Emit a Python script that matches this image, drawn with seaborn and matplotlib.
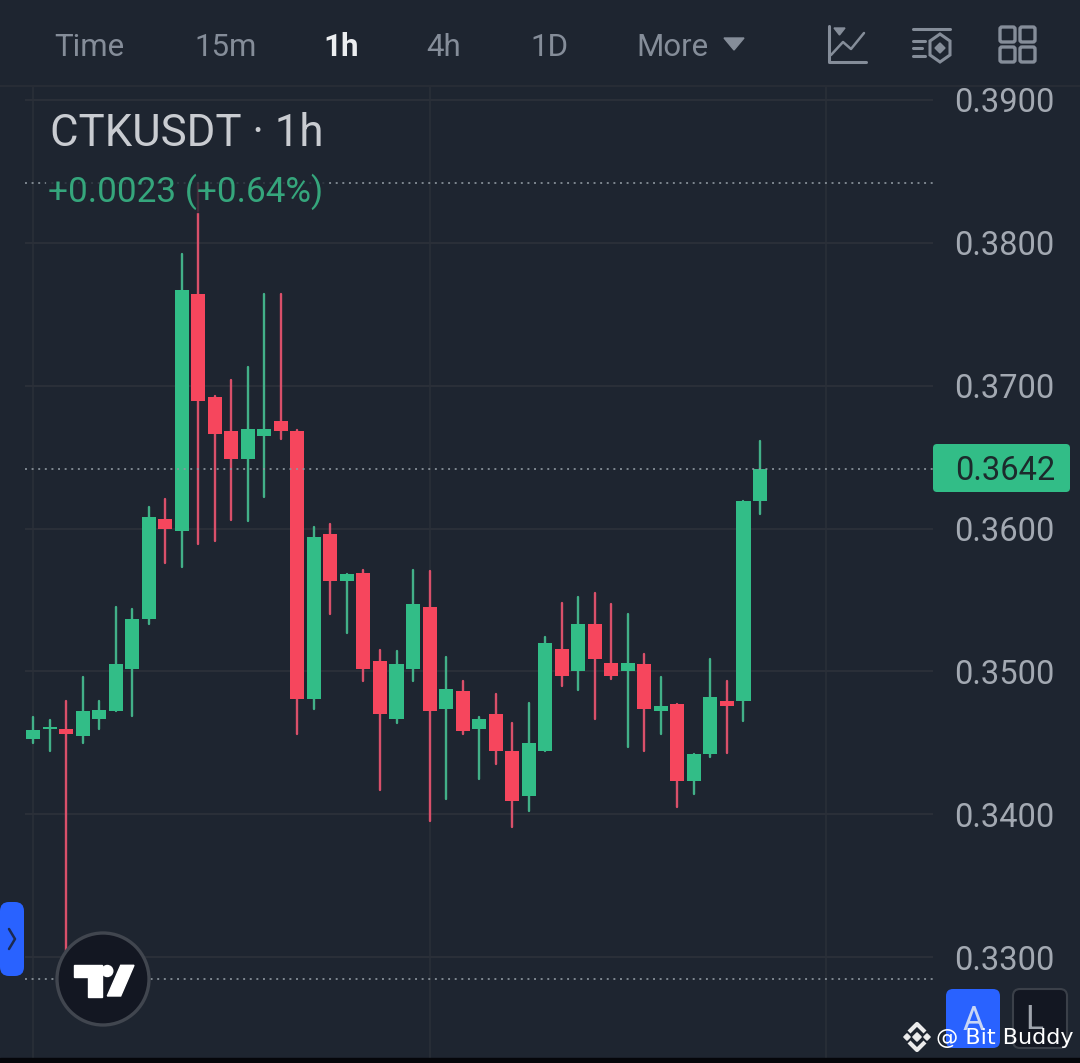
import numpy as np
import pandas as pd
import seaborn as sns
import matplotlib
matplotlib.use("Agg")
import matplotlib.pyplot as plt
from matplotlib.patches import FancyBboxPatch, Circle, Polygon, Rectangle

# ---- data -----------------------------------------------------------------
opens = [.3453,.3460,.3460,.3455,.3467,.3472,.3502,.3537,.3607,.3598,.3764,.3692,.3668,.3649,.3665,
         .3675,.3668,.3481,.3596,.3563,.3569,.3507,.3467,.3502,.3545,.3474,.3486,.3460,.3470,.3444,
         .3413,.3444,.3516,.3500,.3533,.3506,.3500,.3505,.3472,.3477,.3423,.3442,.3479,.3479,.3619]
highs = [.3468,.3466,.3479,.3496,.3479,.3545,.3544,.3615,.3621,.3792,.3842,.3693,.3704,.3713,.3764,
         .3764,.3669,.3601,.3603,.3568,.3571,.3515,.3514,.3571,.3570,.3510,.3493,.3468,.3484,.3464,
         .3478,.3524,.3548,.3552,.3555,.3547,.3540,.3512,.3496,.3477,.3442,.3509,.3493,.3619,.3661]
lows  = [.3450,.3444,.3285,.3450,.3460,.3472,.3469,.3533,.3576,.3573,.3589,.3591,.3606,.3605,.3622,
         .3663,.3456,.3474,.3540,.3527,.3493,.3417,.3464,.3493,.3395,.3411,.3456,.3425,.3435,.3391,
         .3402,.3444,.3490,.3487,.3467,.3495,.3447,.3444,.3456,.3405,.3414,.3440,.3443,.3465,.3610]
closes= [.3459,.3461,.3456,.3472,.3473,.3505,.3537,.3608,.3600,.3767,.3689,.3666,.3649,.3670,.3670,
         .3668,.3481,.3594,.3563,.3568,.3502,.3470,.3505,.3547,.3472,.3488,.3458,.3467,.3444,.3409,
         .3450,.3520,.3497,.3533,.3509,.3497,.3506,.3474,.3476,.3423,.3442,.3482,.3476,.3619,.3642]
price_ticks = [.33,.34,.35,.36,.37,.38,.39]
day_marks = [0, 24, 48]
last_price = .3642
session_high = .3842
session_low = .3285
nav_labels = ["Time", "15m", "1h", "4h", "1D", "More"]

BG = "#1e2530"; GRID = "#2a2f38"; UP = "#32bd87"; DOWN = "#f6465d"
MUTED = "#858d99"; LABEL = "#a3a9b2"

sns.set_theme(style="dark", rc={"axes.facecolor": BG, "figure.facecolor": BG})
plt.rcParams["font.family"] = ["Roboto", "DejaVu Sans"]

W, H = 1080, 1063
fig = plt.figure(figsize=(W/100, H/100), dpi=100)
ax = fig.add_axes([0, 0, 933/W, 1])

df = pd.DataFrame({"i": range(len(opens)), "o": opens, "h": highs, "l": lows, "c": closes})
df["dir"] = np.where(df.c >= df.o, "up", "down")
df["base"] = df[["o", "c"]].min(axis=1)
df["size"] = (df.c - df.o).abs()

# grid (price levels and day separators)
ax.hlines(price_ticks, -0.48, 54.47, color=GRID, lw=1.5, zorder=1)
ax.vlines(day_marks, 0.3226, 0.3910, color=GRID, lw=1.2, zorder=1)

# wicks
wick = pd.concat([df[["i", "dir"]].assign(price=df.h), df[["i", "dir"]].assign(price=df.l)])
sns.lineplot(data=wick, x="i", y="price", units="i", estimator=None, hue="dir", sort=False,
             palette={"up": "#42b088", "down": "#d9506a"}, lw=1.7, legend=False, ax=ax, zorder=2)

# bodies
for key, col in (("up", UP), ("down", DOWN)):
    sub = df[df.dir == key]
    sns.barplot(x=sub.i.values, y=sub["size"].values, bottom=sub.base.values, native_scale=True,
                width=0.85, color=col, saturation=1, linewidth=0, ax=ax, zorder=3)

# session high / low / last dotted lines
for lvl in (session_high, last_price, session_low):
    ax.hlines(lvl, -0.48, 54.47, color="#8f98a0", lw=1.4, linestyles=(0, (1, 2.4)), zorder=4, alpha=.85)

ax.set_xlim(-33/16.523, 900/16.523)
ax.set_ylim(.397 - .00007*H, .397)
ax.set_xlabel(""); ax.set_ylabel("")
ax.set_xticks([])
ax.yaxis.tick_right()
ax.set_yticks(price_ticks)
ax.set_yticklabels([f"{p:.4f}" for p in price_ticks])
ax.tick_params(axis="y", length=0, pad=15, labelsize=23.5, labelcolor=LABEL)
for lab in ax.get_yticklabels():
    lab.set_y(lab.get_position()[1])
for s in ax.spines.values():
    s.set_visible(False)
ax.grid(False)

# ---- overlay in picture pixels for the app chrome ---------------------------
ov = fig.add_axes([0, 0, 1, 1], facecolor="none")
ov.set_xlim(0, W); ov.set_ylim(H, 0); ov.axis("off")

ov.add_patch(Rectangle((0, 0), W, 85, color=BG, zorder=1))
ov.plot([0, W], [86, 86], color="#272c35", lw=1.5, zorder=1)

for lab, x in zip(nav_labels, [54.5, 194, 323, 426, 530, 636]):
    active = lab == "1h"
    ov.text(x, 56, lab, fontsize=22.5, color="#eceef0" if active else MUTED,
            fontweight="bold" if active else "normal", ha="left", va="baseline")
ov.add_patch(Polygon([(724, 38), (744, 38), (734, 50)], color=MUTED))

# chart-type icon
ic = dict(color=MUTED, lw=2.2, solid_capstyle="round")
ov.plot([829, 829, 866], [26, 62, 62], **ic)
ov.plot([831, 843, 851, 864], [55, 42, 49, 33], color=MUTED, lw=1.8)
ov.add_patch(Polygon([(834, 28), (845, 28), (839.5, 35)], color=MUTED))
# settings icon
ov.plot([913, 950], [29, 29], **ic)
ov.plot([913, 925], [41, 41], **ic); ov.plot([913, 922], [48, 48], **ic); ov.plot([913, 925], [56, 56], **ic)
ov.add_patch(Polygon([(940, 34), (950, 41), (950, 55), (940, 62), (930, 55), (930, 41)],
                     fc="none", ec=MUTED, lw=2.2))
ov.add_patch(Polygon([(940, 43), (945, 48), (940, 53), (935, 48)], color=MUTED))
# layout icon
for x0 in (1000, 1020):
    for y0 in (27, 47):
        ov.add_patch(FancyBboxPatch((x0, y0), 15, 15, boxstyle="round,pad=0,rounding_size=2",
                                    fc="none", ec=MUTED, lw=2.4))

# legend text with translucent backing
ov.add_patch(Rectangle((46, 174), 278, 38, color=BG, alpha=.8, zorder=1.5))
ov.text(50, 146, "CTKUSDT · 1h", fontsize=31.5, color="#c9ccd1", ha="left", va="baseline", zorder=5)
ov.text(47.5, 202, "+0.0023 (+0.64%)", fontsize=25.3, color="#35a67c", ha="left", va="baseline", zorder=5)

# last-price tag
ov.add_patch(FancyBboxPatch((933, 444), 137, 48, boxstyle="round,pad=0,rounding_size=4", fc=UP, ec="none"))
ov.text(1005, 467.5, f"{last_price:.4f}", fontsize=23.5, color="#1c2a2c", ha="center", va="center_baseline")

# side tab
ov.add_patch(FancyBboxPatch((0, 902), 24, 74, boxstyle="round,pad=0,rounding_size=9", fc="#2962ff", ec="none"))
ov.plot([9, 15, 9], [929, 939, 949], color="#1c2a50", lw=1.8)

# TradingView badge
ov.add_patch(Circle((103, 979), 46, fc="#131722", ec="#41464f", lw=2.4, zorder=6))
ov.add_patch(Polygon([(74, 965.3), (102, 965.3), (102, 996.7), (88, 996.7), (88, 977.3), (74, 977.3)],
                     color="white", zorder=7))
ov.add_patch(Circle((107.3, 971), 5.5, color="white", zorder=7))
ov.add_patch(Polygon([(120.7, 965.3), (134, 965.3), (120.7, 996), (107.3, 996)], color="white", zorder=7))

# A / L buttons
ov.add_patch(FancyBboxPatch((946, 989), 54, 59, boxstyle="round,pad=0,rounding_size=7", fc="#2962ff", ec="none", zorder=6))
ov.text(973.5, 1021, "A", fontsize=24, color="#c9d6f5", ha="center", va="center", zorder=7)
ov.add_patch(FancyBboxPatch((1013, 989), 54, 59, boxstyle="round,pad=0,rounding_size=7", fc="#131722", ec="#3b4049", lw=1.5, zorder=6))
ov.text(1034, 1020, "L", fontsize=24, color="#9fa4ad", ha="center", va="center", zorder=7)

# watermark
wm = "#ececec"
for cx, cy, r in ((917, 1037, 4.2), (907, 1037, 3.2), (927, 1037, 3.2)):
    ov.add_patch(Polygon([(cx, cy-r), (cx+r, cy), (cx, cy+r), (cx-r, cy)], color=wm, zorder=8))
ov.plot([909, 917, 925], [1032, 1024, 1032], color=wm, lw=3, zorder=8, solid_capstyle="butt")
ov.plot([909, 917, 925], [1042, 1050, 1042], color=wm, lw=3, zorder=8, solid_capstyle="butt")
ov.text(936, 1044, "@ Bit Buddy", fontsize=16, color="white", family=["DejaVu Sans"],
        ha="left", va="baseline", zorder=9)

# bottom edge of the screenshot
ov.add_patch(Rectangle((0, 1058), W, 5, color="#05060a", zorder=5))

fig.savefig("out.png", dpi=100, facecolor=BG)
